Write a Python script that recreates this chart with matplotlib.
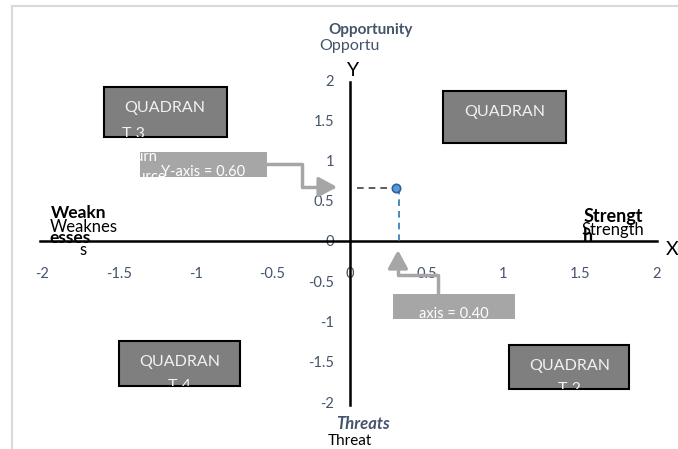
import matplotlib
matplotlib.use("Agg")
import matplotlib.pyplot as plt
from matplotlib.patches import Rectangle, FancyArrowPatch
from matplotlib.path import Path
from matplotlib.transforms import Bbox, TransformedBbox

plt.rcParams['font.family'] = ['Lato', 'DejaVu Sans']

# data
tick_vals = [-2, -1.5, -1, -0.5, 0, 0.5, 1, 1.5, 2]
tick_labels = ['-2', '-1.5', '-1', '-0.5', '0', '0.5', '1', '1.5', '2']
point_x = [0.30]
point_y = [0.66]
quadrants = ['QUADRAN\nT 1', 'QUADRAN\nT 2', 'QUADRAN\nT 3', 'QUADRAN\nT 4']
# boxes in data units: x0, y0, w, h
quad_boxes = [(0.61, 1.22, 0.80, 0.64), (1.04, -1.84, 0.78, 0.55),
              (-1.60, 1.29, 0.80, 0.62), (-1.50, -1.80, 0.79, 0.56)]
# where the wrapped 2nd line sits (above box bottom), and its alignment
line2_off = [-0.15, 0.0, 0.04, 0.0]
line2_left = [False, False, True, False]

slate = '#44546a'
W, H = 678, 449
fig = plt.figure(figsize=(W / 100, H / 100), dpi=100)
ax = fig.add_axes([42 / W, (H - 402) / H, 615 / W, 322 / H])
ax.set_xlim(-2, 2)
ax.set_ylim(-2, 2)
ax.patch.set_visible(False)


def clip_to(t, x0, y0, w, h):
    # text is only cut by a rectangle in Agg, so use a clip box
    t.set_clip_path(None)
    t.set_clip_box(TransformedBbox(Bbox.from_bounds(x0, y0, w, h), ax.transData))
    t.set_clip_on(True)


# frame of the chart area
fig.add_artist(plt.Line2D([12 / W, 12 / W], [0, 1 - 6 / H], color='#d9d9d9', lw=1.5))
fig.add_artist(plt.Line2D([12 / W, 1], [1 - 6 / H, 1 - 6 / H], color='#d9d9d9', lw=1.5))

for s in ['top', 'right']:
    ax.spines[s].set_visible(False)
ax.spines['left'].set_position('zero')
ax.spines['bottom'].set_position('zero')
ax.spines['left'].set_linewidth(1.8)
ax.spines['bottom'].set_linewidth(1.8)
ax.spines['left'].set_bounds(-2.04, 1.98)
ax.spines['bottom'].set_bounds(-2.01, 2.0)
ax.set_xticks(tick_vals)
ax.set_xticklabels(tick_labels)
ax.set_yticks(tick_vals)
ax.set_yticklabels(tick_labels)
ax.tick_params(axis='x', length=0, pad=19, labelsize=10.5, labelcolor=slate)
ax.tick_params(axis='y', length=0, pad=11, labelsize=10.5, labelcolor=slate)

ax.text(0.02, 2.12, 'Y', fontsize=14, ha='center', va='center', clip_on=False)
ax.text(2.10, -0.11, 'X', fontsize=14, ha='center', va='center', clip_on=False)

# quadrant boxes
for lab, (x0, y0, w, h), off, left in zip(quadrants, quad_boxes, line2_off, line2_left):
    r = Rectangle((x0, y0), w, h, facecolor='#7f7f7f', edgecolor='black', lw=1.5, zorder=3)
    ax.add_patch(r)
    l1, l2 = lab.split('\n')
    ax.text(x0 + w / 2, y0 + h - 0.26, l1, color='#f2f2f2', fontsize=11.5,
            ha='center', va='center', zorder=4)
    if left:
        t2 = ax.text(x0 + 0.12, y0 + off, l2, color='#f2f2f2', fontsize=11.5,
                     ha='left', va='center', zorder=4)
    else:
        t2 = ax.text(x0 + w / 2, y0 + off, l2, color='#f2f2f2', fontsize=11.5,
                     ha='center', va='center', zorder=4)
    clip_to(t2, x0, y0, w, h)

# callout boxes
yb = (-1.362, 0.795, 0.825, 0.311)
ax.add_patch(Rectangle(yb[:2], yb[2], yb[3], facecolor='#a6a6a6', edgecolor='none', zorder=3))
for txt, xx, yy in [('Return', -1.25, 1.04), ('Source', -1.19, 0.79)]:
    t = ax.text(xx, yy, txt, color='white', fontsize=10.5, ha='right', va='center', zorder=4)
    clip_to(t, *yb)
t = ax.text(-0.95, 0.86, 'Y-axis = 0.60', color='white', fontsize=10.5, ha='center', va='center', zorder=4)
clip_to(t, *yb)

xb = (0.283, -0.969, 0.793, 0.311)
ax.add_patch(Rectangle(xb[:2], xb[2], xb[3], facecolor='#a6a6a6', edgecolor='none', zorder=3))
t = ax.text(0.68, -0.91, 'axis = 0.40', color='white', fontsize=10.5, ha='center', va='center', zorder=4)
clip_to(t, *xb)

# elbow arrows
p1 = Path([(-0.537, 0.957), (-0.309, 0.957), (-0.309, 0.671), (-0.081, 0.671)])
ax.add_patch(FancyArrowPatch(path=p1, arrowstyle='-|>,head_length=1.1,head_width=0.6',
                             mutation_scale=10, color='#a6a6a6', lw=2.5, zorder=2,
                             shrinkA=0, shrinkB=0))
p2 = Path([(0.576, -0.658), (0.576, -0.422), (0.315, -0.422), (0.315, -0.112)])
ax.add_patch(FancyArrowPatch(path=p2, arrowstyle='-|>,head_length=1.1,head_width=0.6',
                             mutation_scale=10, color='#a6a6a6', lw=2.5, zorder=2,
                             shrinkA=0, shrinkB=0))

# drop lines and point
ax.plot([0.05, point_x[0]], [point_y[0], point_y[0]], ls=(0, (4, 3)), color='#404040', lw=1.2, zorder=4)
ax.plot([point_x[0] + 0.02, point_x[0] + 0.02], [0, point_y[0]], ls=(0, (4, 3)), color='#2e75b6', lw=1.2, zorder=4)
ax.plot(point_x, point_y, 'o', ms=6, mfc='#5b9bd5', mec='#2e5f9e', mew=1.2, zorder=5)

# axis titles
ax.text(0.14, 2.62, 'Opportunity', fontsize=11, fontweight='bold', color=slate,
        ha='center', va='center', clip_on=False)
ax.text(0.0, 2.42, 'Opportu', fontsize=11.5, color=slate, ha='center', va='center', clip_on=False)
ax.text(-1.94, 0.35, 'Weakn', fontsize=12.5, fontweight='bold', ha='left', va='center')
ax.text(-1.95, 0.04, 'esses', fontsize=12.5, fontweight='bold', ha='left', va='center')
ax.text(-1.95, 0.18, 'Weaknes', fontsize=12, ha='left', va='center')
ax.text(-1.73, -0.11, 's', fontsize=12, ha='center', va='center')
ax.text(1.52, 0.31, 'Strengt', fontsize=13, fontweight='bold', ha='left', va='center')
ax.text(1.51, 0.14, 'Strength', fontsize=12, ha='left', va='center')
ax.text(1.52, 0.05, 'h', fontsize=13, fontweight='bold', ha='left', va='center')
ax.text(0.09, -2.27, 'Threats', fontsize=12, fontweight='bold', style='italic', color=slate,
        ha='center', va='center', clip_on=False)
ax.text(0.0, -2.49, 'Threat', fontsize=11, ha='center', va='center', clip_on=False)

fig.savefig('out.png', dpi=100)
